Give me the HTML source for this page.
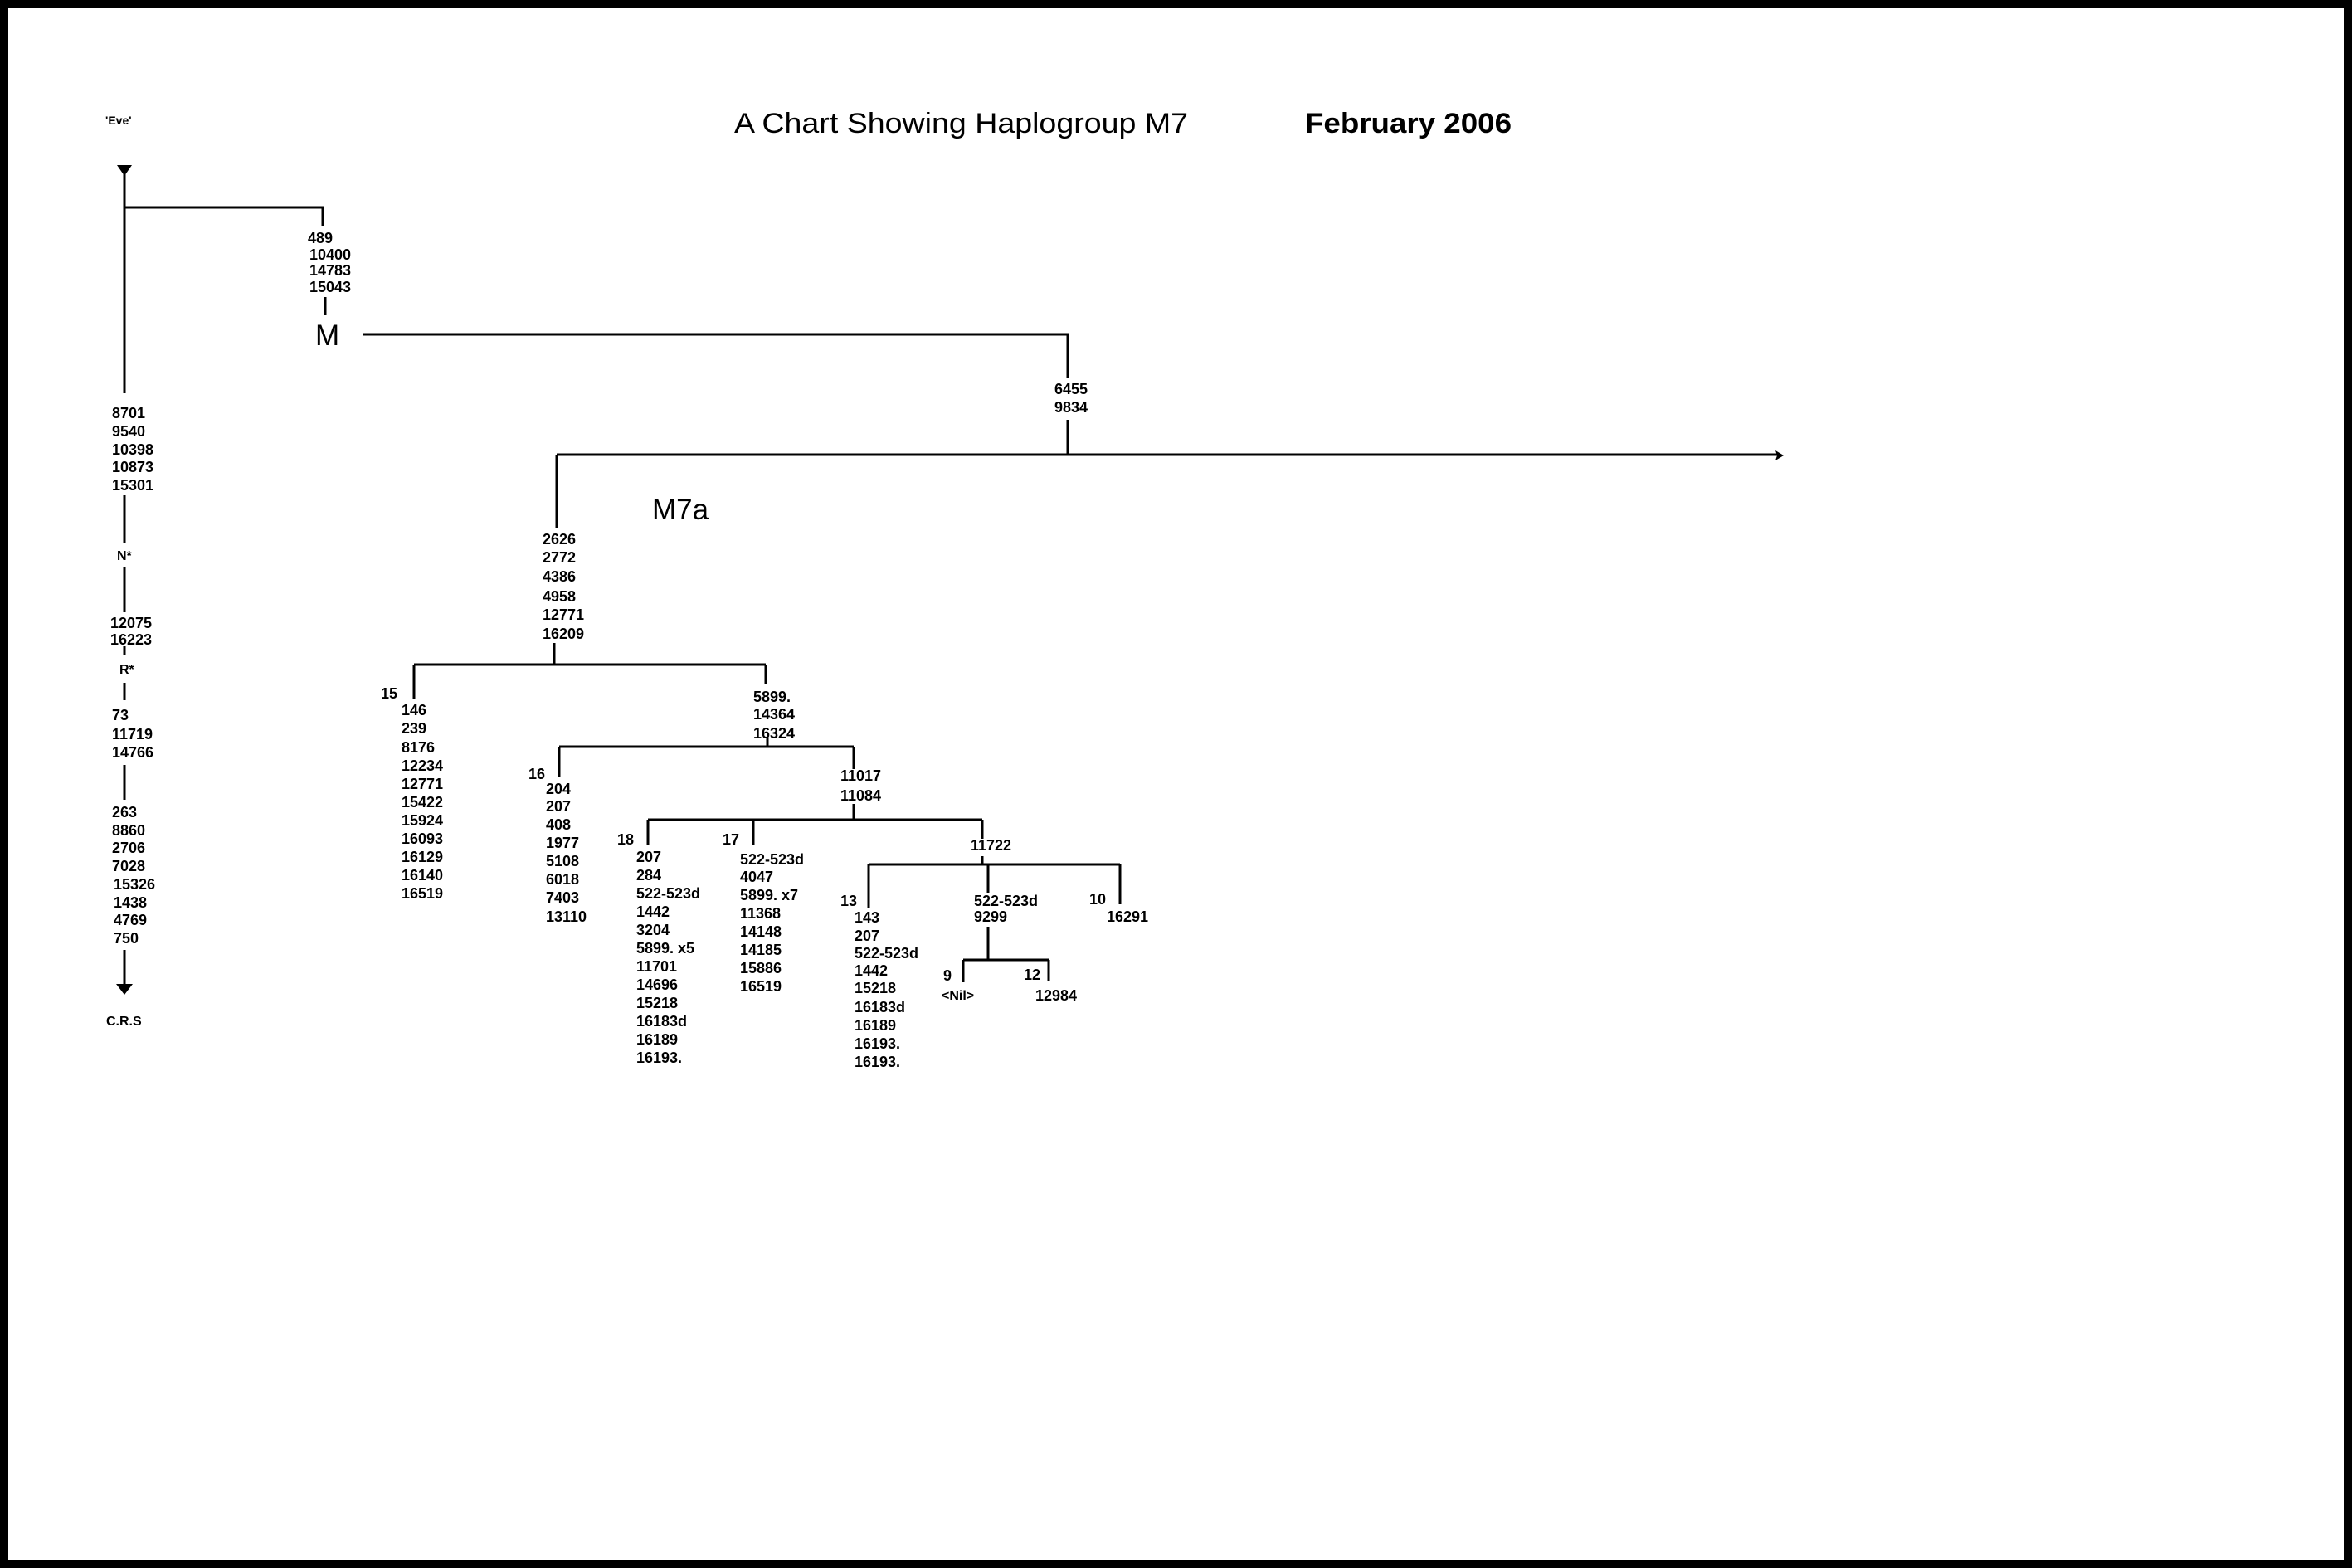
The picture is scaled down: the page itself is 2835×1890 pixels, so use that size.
<!DOCTYPE html>
<html><head><meta charset="utf-8"><style>
html,body{margin:0;padding:0;background:#fff}
svg{display:block}
text{font-family:"Liberation Sans",Arial,sans-serif;font-weight:bold;font-size:18px;fill:#000}
</style></head><body>
<svg width="2835" height="1890" viewBox="0 0 2835 1890" xmlns="http://www.w3.org/2000/svg">
<rect x="5" y="5" width="2825" height="1880" fill="#fff" stroke="#000" stroke-width="10"/>
<text x="885" y="160" style="font-weight:normal;font-size:34px" textLength="547" lengthAdjust="spacingAndGlyphs">A Chart Showing Haplogroup  M7</text>
<text x="1573" y="160" style="font-size:34px" textLength="249" lengthAdjust="spacingAndGlyphs">February 2006</text>
<text x="127" y="150" style="font-size:14px">'Eve'</text>
<g stroke="#000" stroke-width="3" fill="none">
<path d="M150 210V474M150 250H389V272"/>
<path d="M392 358V380"/>
<path d="M437 403H1287V456"/>
<path d="M1287 506V548M671 548H2142M671 548V636"/>
<path d="M150 597V655M150 683V738M150 779V790M150 823V844M150 922V964M150 1145V1188"/>
<path d="M668 775V801M499 801H923M499 801V842M923 801V825"/>
<path d="M925 890V900M674 900H1029M674 900V936M1029 900V927"/>
<path d="M1029 969V988M781 988H1184M781 988V1018M908 988V1018M1184 988V1011"/>
<path d="M1184 1032V1042M1047 1042H1350M1047 1042V1094M1191 1042V1076M1350 1042V1090"/>
<path d="M1191 1117V1157M1161 1157H1264M1161 1157V1184M1264 1157V1183"/>
</g>
<polygon points="141,199 159,199 150,212" fill="#000"/>
<polygon points="2150,549 2140,543 2142,549 2140,555" fill="#000"/>
<polygon points="140,1186 160,1186 150,1199" fill="#000"/>
<g>
<text x="371" y="293">489</text><text x="373" y="313">10400</text><text x="373" y="332">14783</text><text x="373" y="352">15043</text>
</g>
<text x="380" y="416" style="font-weight:normal;font-size:35px">M</text>
<text x="1271" y="475">6455</text><text x="1271" y="497">9834</text>
<text x="786" y="626" style="font-weight:normal;font-size:35px">M7a</text>
<g>
<text x="654" y="656">2626</text><text x="654" y="678">2772</text><text x="654" y="701">4386</text><text x="654" y="725">4958</text><text x="654" y="747">12771</text><text x="654" y="770">16209</text>
</g>
<g>
<text x="135" y="504">8701</text><text x="135" y="526">9540</text><text x="135" y="548">10398</text><text x="135" y="569">10873</text><text x="135" y="591">15301</text>
<text x="141" y="675" style="font-size:16px">N*</text>
<text x="133" y="757">12075</text><text x="133" y="777">16223</text>
<text x="144" y="812" style="font-size:16px">R*</text>
<text x="135" y="868">73</text><text x="135" y="891">11719</text><text x="135" y="913">14766</text>
<text x="135" y="985">263</text><text x="135" y="1007">8860</text><text x="135" y="1028">2706</text><text x="135" y="1050">7028</text><text x="137" y="1072">15326</text><text x="137" y="1094">1438</text><text x="137" y="1115">4769</text><text x="137" y="1137">750</text>
<text x="128" y="1236" style="font-size:16px">C.R.S</text>
</g>
<g>
<text x="459" y="842">15</text>
<text x="484" y="862">146</text><text x="484" y="884">239</text><text x="484" y="907">8176</text><text x="484" y="929">12234</text><text x="484" y="951">12771</text><text x="484" y="973">15422</text><text x="484" y="995">15924</text><text x="484" y="1017">16093</text><text x="484" y="1039">16129</text><text x="484" y="1061">16140</text><text x="484" y="1083">16519</text>
</g>
<text x="908" y="846">5899.</text><text x="908" y="867">14364</text><text x="908" y="890">16324</text>
<g>
<text x="637" y="939">16</text>
<text x="658" y="957">204</text><text x="658" y="978">207</text><text x="658" y="1000">408</text><text x="658" y="1022">1977</text><text x="658" y="1044">5108</text><text x="658" y="1066">6018</text><text x="658" y="1088">7403</text><text x="658" y="1111">13110</text>
</g>
<text x="1013" y="941">11017</text><text x="1013" y="965">11084</text>
<g>
<text x="744" y="1018">18</text>
<text x="767" y="1039">207</text><text x="767" y="1061">284</text><text x="767" y="1083">522-523d</text><text x="767" y="1105">1442</text><text x="767" y="1127">3204</text><text x="767" y="1149">5899. x5</text><text x="767" y="1171">11701</text><text x="767" y="1193">14696</text><text x="767" y="1215">15218</text><text x="767" y="1237">16183d</text><text x="767" y="1259">16189</text><text x="767" y="1281">16193.</text>
</g>
<g>
<text x="871" y="1018">17</text>
<text x="892" y="1042">522-523d</text><text x="892" y="1063">4047</text><text x="892" y="1085">5899. x7</text><text x="892" y="1107">11368</text><text x="892" y="1129">14148</text><text x="892" y="1151">14185</text><text x="892" y="1173">15886</text><text x="892" y="1195">16519</text>
</g>
<text x="1170" y="1025">11722</text>
<g>
<text x="1013" y="1092">13</text>
<text x="1030" y="1112">143</text><text x="1030" y="1134">207</text><text x="1030" y="1155">522-523d</text><text x="1030" y="1176">1442</text><text x="1030" y="1197">15218</text><text x="1030" y="1220">16183d</text><text x="1030" y="1242">16189</text><text x="1030" y="1264">16193.</text><text x="1030" y="1286">16193.</text>
</g>
<text x="1174" y="1092">522-523d</text><text x="1174" y="1111">9299</text>
<text x="1313" y="1090">10</text><text x="1334" y="1111">16291</text>
<text x="1137" y="1182">9</text><text x="1135" y="1205" style="font-size:16px">&lt;Nil&gt;</text>
<text x="1234" y="1181">12</text><text x="1248" y="1206">12984</text>
</svg>
</body></html>
